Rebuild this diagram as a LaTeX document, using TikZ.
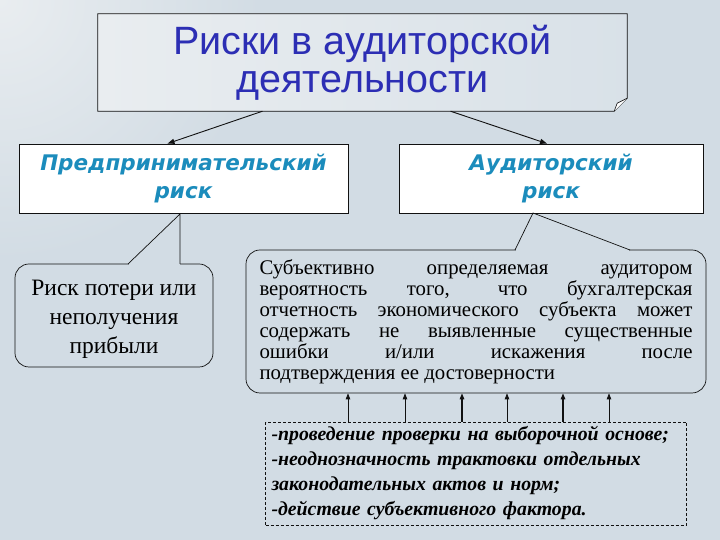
\documentclass[tikz,border=0pt]{standalone}
\usepackage{fontspec}
\setmainfont{Liberation Serif}
\newfontfamily\titlefont{Liberation Sans}
\newfontfamily\headfont{DejaVu Sans}
\usepackage{tikz}
\usetikzlibrary{arrows.meta,positioning,calc}
\definecolor{ink}{HTML}{111111}
\definecolor{slide}{HTML}{D2DCE4}
\definecolor{slidelight}{HTML}{E9EDF0}
\definecolor{titleblue}{HTML}{2C2EB4}
\definecolor{headteal}{HTML}{1B8CBC}

\begin{document}
\begin{tikzpicture}[x=1pt,y=1pt]
    \tikzset{
      titlebox/.style={draw=none,left color=slidelight,right color=slide!85!white,minimum width=529pt,minimum height=97pt,align=center,inner sep=0pt,font=\titlefont\fontsize{39.5}{38}\selectfont,text=titleblue},
      riskbox/.style={draw=ink,fill=white,line width=0.8pt,minimum height=69pt,align=center,inner sep=0pt,font=\headfont\bfseries\itshape\fontsize{21.5}{28}\selectfont,text=headteal},
      callout/.style={draw=ink,rounded corners=14pt,line width=0.7pt,align=center,inner sep=0pt},
      factorbox/.style={draw=ink,dash pattern=on 3pt off 2pt,line width=0.6pt,minimum width=421pt,minimum height=103pt,inner sep=0pt,text width=409pt,align=left,font=\bfseries\itshape\fontsize{19.8}{25}\selectfont},
      arrow/.style={-{Triangle[length=7pt,width=5pt]},draw=ink,line width=0.9pt},
      uparrow/.style={-{Triangle[length=6pt,width=4.5pt]},draw=ink}
    }
    % background of the slide
    \useasboundingbox (0,0) rectangle (720,540);
    \begin{scope}
      \clip (0,0) rectangle (720,540);
      \fill[slide] (0,0) rectangle (720,540);
      \shade[inner color=slidelight,outer color=slide] (0,540) circle (260);
    \end{scope}

    \node[titlebox] (title) at (362.5,477.5) {Риски в аудиторской\\деятельности};
    % folded corner
    \fill[slide] ([xshift=-13pt]title.south east) -- (title.south east) -- ([yshift=13pt]title.south east) -- cycle;
    \draw[ink,line width=0.8pt] (title.south west) -- ([xshift=-13pt]title.south east) -- ([yshift=13pt]title.south east) -- (title.north east) -- (title.north west) -- cycle;
    \draw[ink,fill=white,line width=0.6pt] ([xshift=-13pt]title.south east) -- ([xshift=-10pt,yshift=8pt]title.south east) -- ([yshift=13pt]title.south east);

    \node[riskbox,minimum width=329pt] (ent) at (183.5,361.5) {Предпринимательский\\риск};
    \node[riskbox,minimum width=304pt] (aud) at (551,361.5) {Аудиторский\\риск};
    \draw[arrow] ([xshift=-100pt]title.south) -- ([xshift=-16pt]ent.north);
    \draw[arrow] ([xshift=88pt]title.south) -- ([xshift=-4pt]aud.north);

    % callouts
    \node[callout,minimum width=198pt,minimum height=103pt,
      label={[font=\fontsize{23.5}{29}\selectfont,align=center,yshift=-4pt]center:Риск потери или\\неполучения\\прибыли}] (lossnote) at (114,224.5) {};
    \fill[slide] (128.6,275.2) rectangle (179.6,277);
    \draw[ink,line width=0.7pt] (128,276) -- (180,326) -- (180,276);

    \node[callout,minimum width=460pt,minimum height=143pt,text width=433pt,align=justify,font=\fontsize{20.8}{21}\selectfont] (auditnote) at (476,218.5) {Субъективно определяемая аудитором\linebreak вероятность того, что бухгалтерская\linebreak отчетность экономического субъекта может\linebreak содержать не выявленные существенные\linebreak ошибки и/или искажения после\linebreak подтверждения ее достоверности};
    \fill[slide] (515.6,289.2) rectangle (629.4,291);
    \draw[ink,line width=0.7pt] (515,290) -- (533,327) -- (630,290);

    \node[factorbox] (factors) at (476,66.5) {-проведение проверки на выборочной основе;\\-неоднозначность трактовки отдельных\\законодательных актов и норм;\\-действие субъективного фактора.};
    \foreach \d/\w in {-128/0.7,-71/0.7,-14/1.3,31/0.7,87/1.3,133/0.7}
      \draw[uparrow,line width=\w pt] ([xshift=\d pt]factors.north) -- ([xshift=\d pt]auditnote.south);
  \end{tikzpicture}
\end{document}
